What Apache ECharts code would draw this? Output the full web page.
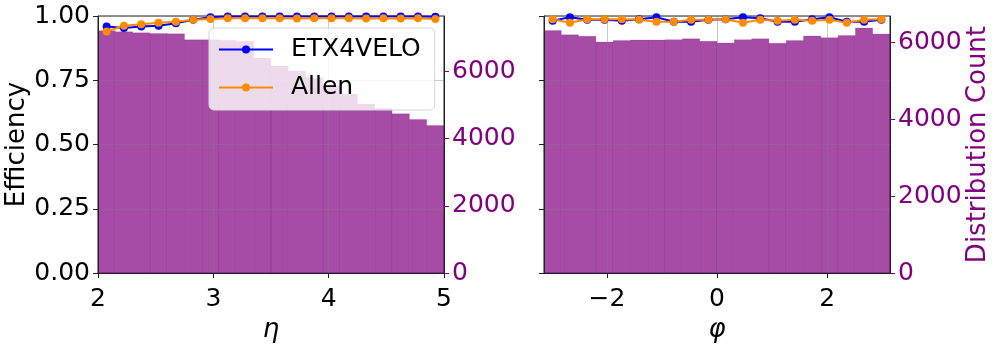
<!DOCTYPE html>
<html>
<head>
<meta charset="utf-8">
<script src="https://cdn.jsdelivr.net/npm/echarts@6/dist/echarts.min.js"></script>
<style>
  html, body { margin: 0; padding: 0; background: #fff; }
  #chart { width: 997px; height: 348px; }
</style>
</head>
<body>
<div id="chart"></div>
<script>
// η 方向：20 个分箱，范围 2 ~ 5
const etaRange = [2, 5]
const etaCounts = [7210, 7180, 7150, 7130, 7120, 6940, 6940, 6930, 6900, 6400,
  6160, 6010, 5810, 5570, 5320, 5030, 4900, 4740, 4570, 4390]
const etaEtx = [0.959, 0.953, 0.959, 0.962, 0.972, 0.985, 0.995, 0.998, 0.998, 0.998,
  0.998, 0.998, 0.998, 0.998, 0.998, 0.998, 0.998, 0.998, 0.998, 0.997]
const etaAllen = [0.940, 0.962, 0.968, 0.974, 0.978, 0.985, 0.988, 0.991, 0.991, 0.991,
  0.991, 0.990, 0.991, 0.991, 0.991, 0.990, 0.991, 0.990, 0.991, 0.988]

// φ 方向：20 个分箱，范围 -π ~ π
const phiRange = [-Math.PI, Math.PI]
const phiCounts = [6310, 6200, 6160, 6015, 6055, 6065, 6065, 6075, 6095, 6030,
  5990, 6075, 6095, 5980, 6055, 6170, 6125, 6180, 6375, 6220]
const phiEtx = [0.982, 0.995, 0.985, 0.985, 0.982, 0.987, 0.995, 0.978, 0.978, 0.985,
  0.987, 0.995, 0.991, 0.978, 0.978, 0.987, 0.995, 0.978, 0.978, 0.985]
const phiAllen = [0.987, 0.974, 0.987, 0.987, 0.987, 0.985, 0.978, 0.978, 0.985, 0.985,
  0.987, 0.974, 0.985, 0.982, 0.985, 0.982, 0.985, 0.974, 0.985, 0.987]

// 刻度
const effTicks = [0, 0.25, 0.5, 0.75, 1]
const etaTicks = [2, 3, 4, 5]
const phiTicks = [-2, 0, 2]
const countTicks = [0, 2000, 4000, 6000]
const etaCountMax = 7650
const phiCountMax = 6690

const FONT = 'DejaVu Sans'
const PURPLE = '#800080'

// 分箱 -> [左边界, 右边界, 计数]
function toBins(range, counts) {
  const w = (range[1] - range[0]) / counts.length
  return counts.map((c, i) => [range[0] + i * w, range[0] + (i + 1) * w, c])
}
// 分箱中心 + 效率
function toPoints(range, values) {
  const w = (range[1] - range[0]) / values.length
  return values.map((v, i) => [range[0] + (i + 0.5) * w, v])
}
// 负号用 U+2212，不要千位分隔符
const plain = (v) => String(v).replace('-', '\u2212')

// 直方图矩形
function renderBin(params, api) {
  const top = api.coord([api.value(0), api.value(2)])
  const bottom = api.coord([api.value(1), 0])
  return {
    type: 'rect',
    shape: { x: top[0], y: top[1], width: bottom[0] - top[0], height: bottom[1] - top[1] },
    style: { fill: 'rgba(128,0,128,0.7)', stroke: 'rgba(110,0,110,0.25)', lineWidth: 0.6 },
  }
}

const chartInstance = echarts.init(document.getElementById('chart'))

const axisLine = { show: true, onZero: false, lineStyle: { color: '#222', width: 1 } }
const gridLine = { show: true, lineStyle: { color: 'rgba(128,128,128,0.4)', width: 1 } }
const tickLabel = { fontFamily: FONT, fontSize: 25, color: '#000' }

function xAxisOf(gridIndex, range, ticks, name) {
  return {
    type: 'value', gridIndex, min: range[0], max: range[1], z: 3,
    name, nameLocation: 'middle', nameGap: 38,
    nameTextStyle: { fontFamily: FONT, fontSize: 26, fontStyle: 'italic', color: '#000' },
    axisLine,
    axisTick: { show: true, length: 5, customValues: ticks, lineStyle: { color: '#222' } },
    axisLabel: { ...tickLabel, margin: 14, customValues: ticks, formatter: plain },
    splitLine: gridLine,
  }
}
function effAxisOf(gridIndex, showLabels, name) {
  return {
    type: 'value', gridIndex, position: 'left', min: 0, max: 1, interval: 0.25, z: 3,
    name, nameLocation: 'middle', nameGap: 61, nameRotate: 90,
    nameTextStyle: { fontFamily: FONT, fontSize: 26, color: '#000' },
    axisLine,
    axisTick: { show: true, length: 5, lineStyle: { color: '#222' } },
    axisLabel: { ...tickLabel, show: showLabels, margin: 8, formatter: (v) => v.toFixed(2) },
    splitLine: gridLine,
  }
}
function countAxisOf(gridIndex, max, name) {
  return {
    type: 'value', gridIndex, position: 'right', min: 0, max, z: 3,
    name, nameLocation: 'middle', nameGap: 71, nameRotate: 90,
    nameTextStyle: { fontFamily: FONT, fontSize: 26, color: PURPLE },
    axisLine,
    axisTick: { show: true, length: 5, customValues: countTicks, lineStyle: { color: PURPLE } },
    axisLabel: { fontFamily: FONT, fontSize: 25, color: PURPLE, margin: 8,
      customValues: countTicks, formatter: plain },
    splitLine: { show: false },
  }
}
function lineSeries(name, color, xi, yi, data) {
  return {
    name, type: 'line', xAxisIndex: xi, yAxisIndex: yi, z: 5,
    data, symbol: 'circle', symbolSize: 8, showSymbol: true, showAllSymbol: true,
    lineStyle: { color, width: 2 }, itemStyle: { color },
  }
}

const option = {
  animation: false,
  backgroundColor: '#fff',
  textStyle: { fontFamily: FONT },
  grid: [
    { left: 98, right: 553, top: 16, bottom: 72, show: true, borderColor: '#222', borderWidth: 1 },
    { left: 544, right: 107, top: 16, bottom: 72, show: true, borderColor: '#222', borderWidth: 1 },
  ],
  xAxis: [
    xAxisOf(0, etaRange, etaTicks, 'η'),
    xAxisOf(1, phiRange, phiTicks, 'φ'),
  ],
  yAxis: [
    effAxisOf(0, true, 'Efficiency'),
    countAxisOf(0, etaCountMax, ''),
    effAxisOf(1, false, ''),
    countAxisOf(1, phiCountMax, 'Distribution Count'),
  ],
  legend: {
    left: 209, top: 28, orient: 'vertical', z: 10,
    data: ['ETX4VELO', 'Allen'],
    itemWidth: 54, itemHeight: 10, itemGap: 13,
    padding: [9, 14, 10, 9],
    backgroundColor: 'rgba(255,255,255,0.8)',
    borderColor: '#d6d6d6', borderWidth: 1, borderRadius: 5,
    textStyle: { fontFamily: FONT, fontSize: 25, color: '#000', padding: [0, 0, 0, 13] },
  },
  series: [
    { type: 'custom', xAxisIndex: 0, yAxisIndex: 1, z: 2, renderItem: renderBin,
      encode: { x: [0, 1], y: 2 }, data: toBins(etaRange, etaCounts) },
    { type: 'custom', xAxisIndex: 1, yAxisIndex: 3, z: 2, renderItem: renderBin,
      encode: { x: [0, 1], y: 2 }, data: toBins(phiRange, phiCounts) },
    lineSeries('ETX4VELO', '#0000ff', 0, 0, toPoints(etaRange, etaEtx)),
    lineSeries('Allen', '#ff8c00', 0, 0, toPoints(etaRange, etaAllen)),
    lineSeries('ETX4VELO', '#0000ff', 1, 2, toPoints(phiRange, phiEtx)),
    lineSeries('Allen', '#ff8c00', 1, 2, toPoints(phiRange, phiAllen)),
  ],
}
chartInstance.setOption(option)
</script>
</body>
</html>
